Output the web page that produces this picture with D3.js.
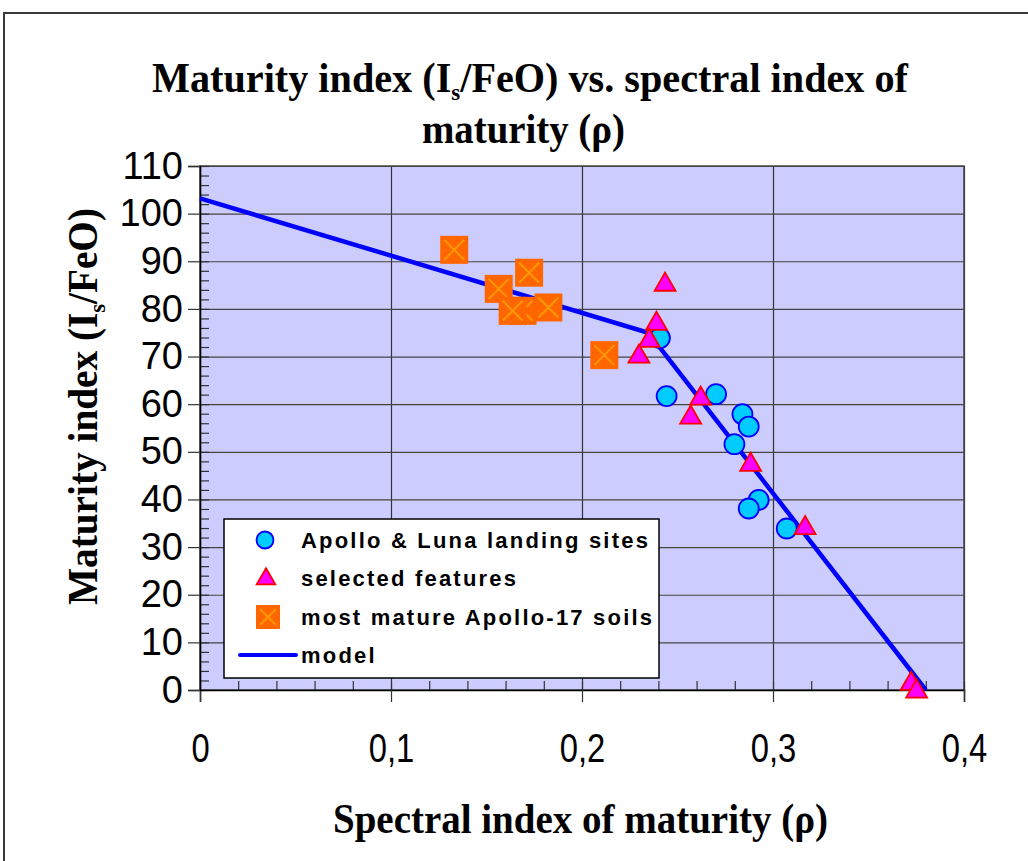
<!DOCTYPE html>
<html><head><meta charset="utf-8">
<script src="https://cdn.jsdelivr.net/npm/d3@7"></script>
<style>body{margin:0;background:#fff}svg{display:block}</style>
</head><body>
<script>
// ---- data ----
const xTicks = [0, 0.1, 0.2, 0.3, 0.4];
const xTickLabels = ["0", "0,1", "0,2", "0,3", "0,4"];
const yTicks = [0,10,20,30,40,50,60,70,80,90,100,110];

const apolloLunaX = [0.2408,0.2443,0.2702,0.2840,0.2873,0.2798,0.2925,0.2873,0.3072];
const apolloLunaY = [73.9,61.7,62.1,57.9,55.3,51.6,39.9,38.1,33.9];

const featuresX = [0.2435,0.2390,0.2352,0.2298,0.2621,0.2569,0.2883,0.3168,0.3723,0.3752];
const featuresY = [85.4,77.2,73.6,70.3,61.5,57.5,47.6,34.3,1.6,0.0];

const apollo17X = [0.1331,0.1723,0.1564,0.1689,0.1637,0.1824,0.2117];
const apollo17Y = [92.4,87.6,84.2,79.6,79.6,80.3,70.3];

const modelX = [0, 0.2347, 0.380];
const modelY = [103.2, 75.0, 0];

const legendLabels = ["Apollo & Luna landing sites","selected features","most mature Apollo-17 soils","model"];

// ---- chart ----
const W = 1028, H = 861;
const svg = d3.select("body").append("svg").attr("width", W).attr("height", H);

// outer frame
svg.append("rect").attr("x",4).attr("y",13).attr("width",1100).attr("height",900)
  .attr("fill","#fff").attr("stroke","#3a3a3a").attr("stroke-width",2);

const x = d3.scaleLinear().domain([0,0.4]).range([200,964]);
const y = d3.scaleLinear().domain([0,110]).range([690,166]);

// plot background
svg.append("rect").attr("x",x(0)).attr("y",y(110)).attr("width",x(0.4)-x(0)).attr("height",y(0)-y(110))
  .attr("fill","#CCCCFF");

// gridlines
const gx = svg.append("g").attr("transform",`translate(0,${y(0)})`)
  .call(d3.axisBottom(x).tickValues(xTicks).tickSize(-(y(0)-y(110))).tickFormat(""));
gx.select(".domain").remove();
gx.selectAll("line").attr("stroke","#333").attr("stroke-width",1.2);
const gy = svg.append("g").attr("transform",`translate(${x(0)},0)`)
  .call(d3.axisLeft(y).tickValues(yTicks).tickSize(-(x(0.4)-x(0))).tickFormat(""));
gy.select(".domain").remove();
gy.selectAll("line").attr("stroke","#444").attr("stroke-width",1.2);

// plot border (top/right)
svg.append("rect").attr("x",x(0)).attr("y",y(110)).attr("width",x(0.4)-x(0)).attr("height",y(0)-y(110))
  .attr("fill","none").attr("stroke","#444").attr("stroke-width",1.5);

// minor ticks
const yMinor = d3.range(0,111,2);
const ym = svg.append("g").attr("transform",`translate(${x(0)},0)`)
  .call(d3.axisRight(y).tickValues(yMinor).tickSize(9).tickFormat(""));
ym.select(".domain").remove();
ym.selectAll("line").attr("stroke","#333").attr("stroke-width",1.2);
const xMinor = d3.range(0,21).map(i=>i*0.02);
const xm = svg.append("g").attr("transform",`translate(0,${y(0)})`)
  .call(d3.axisTop(x).tickValues(xMinor).tickSize(9).tickFormat(""));
xm.select(".domain").remove();
xm.selectAll("line").attr("stroke","#333").attr("stroke-width",1.2);

// major axes
const ax = svg.append("g").attr("transform",`translate(0,${y(0)})`)
  .call(d3.axisBottom(x).tickValues(xTicks).tickSize(12).tickPadding(30).tickFormat((d,i)=>xTickLabels[i]));
ax.select(".domain").attr("stroke","#000").attr("stroke-width",1.5);
ax.selectAll("line").attr("stroke","#333").attr("stroke-width",1.2);
ax.selectAll(".tick text").attr("font-family","Liberation Sans, Arial").attr("font-size",40).attr("fill","#000")
  .attr("transform","scale(0.82,1)").attr("x",0).attr("y",44);

const ay = svg.append("g").attr("transform",`translate(${x(0)},0)`)
  .call(d3.axisLeft(y).tickValues(yTicks).tickSize(12).tickPadding(5));
ay.select(".domain").attr("stroke","#000").attr("stroke-width",1.5);
ay.selectAll("line").attr("stroke","#333").attr("stroke-width",1.2);
ay.selectAll("text").attr("font-family","Liberation Sans, Arial").attr("font-size",38).attr("fill","#000");

// model line
const line = d3.line().x(d=>x(d[0])).y(d=>y(d[1]));
svg.append("path").datum(modelX.map((v,i)=>[v,modelY[i]]))
  .attr("d",line).attr("fill","none").attr("stroke","#0000FF").attr("stroke-width",4.5);

// circles
svg.append("g").selectAll("circle").data(apolloLunaX.map((v,i)=>[v,apolloLunaY[i]])).join("circle")
  .attr("cx",d=>x(d[0])).attr("cy",d=>y(d[1])).attr("r",10)
  .attr("fill","#00CCFF").attr("stroke","#0000FF").attr("stroke-width",1.8);

// triangles
const tri = d3.symbol().type(d3.symbolTriangle).size(190);
svg.append("g").selectAll("path").data(featuresX.map((v,i)=>[v,featuresY[i]])).join("path")
  .attr("d",tri).attr("transform",d=>`translate(${x(d[0])},${y(d[1])+1.5})`)
  .attr("fill","#FF00FF").attr("stroke","#FF0000").attr("stroke-width",1.8);

// squares
const sq = svg.append("g").selectAll("g").data(apollo17X.map((v,i)=>[v,apollo17Y[i]])).join("g")
  .attr("transform",d=>`translate(${x(d[0])},${y(d[1])})`);
function drawSquare(g, s){
  g.append("rect").attr("x",-s/2).attr("y",-s/2).attr("width",s).attr("height",s).attr("fill","#FF6600");
  const a = s/2-4;
  g.append("path").attr("d",`M${-a},${-a}L${a},${a}M${a},${-a}L${-a},${a}`)
    .attr("stroke","#FF9900").attr("stroke-width",2);
}
sq.each(function(){ drawSquare(d3.select(this), 28); });

// legend
const lg = svg.append("g");
lg.append("rect").attr("x",224).attr("y",519).attr("width",435).attr("height",159)
  .attr("fill","#fff").attr("stroke","#000").attr("stroke-width",1.5);
const rowY = [540, 578, 617, 655];
lg.append("circle").attr("cx",265).attr("cy",rowY[0]).attr("r",8.5)
  .attr("fill","#00CCFF").attr("stroke","#0000FF").attr("stroke-width",1.8);
lg.append("path").attr("d",d3.symbol().type(d3.symbolTriangle).size(150)).attr("transform",`translate(266,${rowY[1]+1})`)
  .attr("fill","#FF00FF").attr("stroke","#FF0000").attr("stroke-width",1.8);
drawSquare(lg.append("g").attr("transform",`translate(268,${rowY[2]})`), 24);
lg.append("line").attr("x1",240).attr("x2",296).attr("y1",rowY[3]).attr("y2",rowY[3])
  .attr("stroke","#0000FF").attr("stroke-width",4).attr("stroke-linecap","round");
lg.selectAll("text.l").data(legendLabels).join("text").attr("class","l")
  .attr("x",301).attr("y",(d,i)=>rowY[i]).attr("dy","0.36em")
  .attr("font-family","Liberation Sans, Arial").attr("font-weight","bold").attr("font-size",22)
  .attr("letter-spacing","2.2px").attr("fill","#000").text(d=>d);

// titles
const serif = "Liberation Serif, Times New Roman, serif";
const t1 = svg.append("text").attr("x",152).attr("y",92).attr("font-family",serif).attr("font-weight","bold")
  .attr("font-size",42).attr("textLength",756).attr("lengthAdjust","spacingAndGlyphs");
t1.append("tspan").text("Maturity index (I");
t1.append("tspan").attr("font-size",24).attr("dy",8).text("s");
t1.append("tspan").attr("dy",-8).text("/FeO)  vs. spectral index of");
svg.append("text").attr("x",422).attr("y",143).attr("font-family",serif).attr("font-weight","bold")
  .attr("font-size",42).attr("textLength",203).attr("lengthAdjust","spacingAndGlyphs").text("maturity (ρ)");

const yt = svg.append("text").attr("transform","translate(97,605) rotate(-90)").attr("font-family",serif)
  .attr("font-weight","bold").attr("font-size",42).attr("textLength",397).attr("lengthAdjust","spacingAndGlyphs");
yt.append("tspan").text("Maturity index (I");
yt.append("tspan").attr("font-size",24).attr("dy",8).text("s");
yt.append("tspan").attr("dy",-8).text("/FeO)");

svg.append("text").attr("x",333).attr("y",833).attr("font-family",serif).attr("font-weight","bold")
  .attr("font-size",42).attr("textLength",495).attr("lengthAdjust","spacingAndGlyphs")
  .text("Spectral index of maturity (ρ)");
</script>
</body></html>
